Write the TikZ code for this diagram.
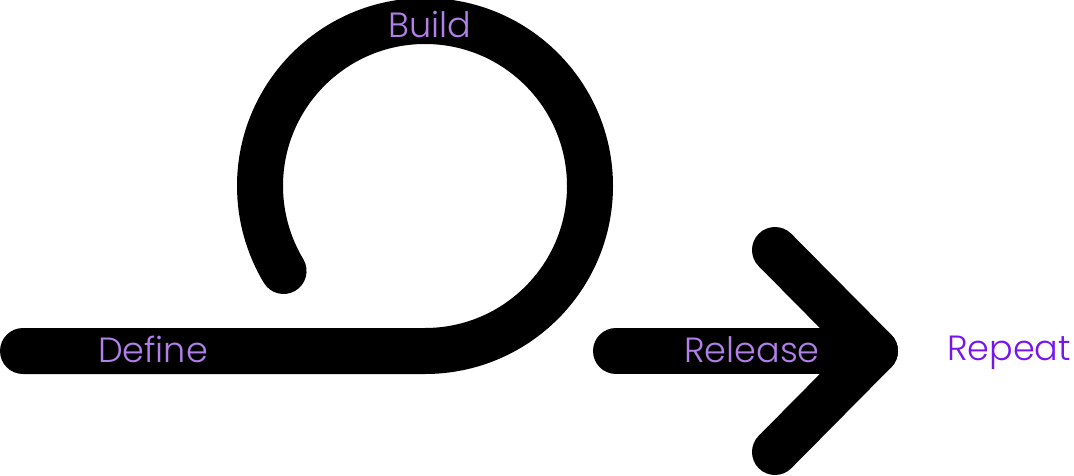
\documentclass[tikz,border=0pt]{standalone}
\usepackage{fontspec}
\setmainfont{Poppins}[UprightFont=* Light]
\usetikzlibrary{positioning}
\definecolor{softpurple}{RGB}{178,128,232}
\definecolor{deeppurple}{RGB}{118,20,238}

\begin{document}
\begin{tikzpicture}[x=1pt,y=1pt,
    stroke/.style={line width=46pt,line cap=round,line join=round},
    stage/.style={anchor=base,font=\fontsize{35}{41}\selectfont,text=softpurple,inner sep=0pt}]
    \useasboundingbox (0,0) rectangle (1074,475);

    % loop: define, then build
    \coordinate (start) at (23,124);
    \coordinate (turn) at (425,124);
    \draw[stroke] (start) -- (turn) arc (270:571:165);

    % release arrow
    \coordinate (shaft) at (616,124);
    \coordinate (tip) at (875,124);
    \coordinate (wingup) at (775,225);
    \coordinate (wingdown) at (775,23);
    \draw[stroke] (shaft) -- (tip);
    \draw[stroke] (wingup) -- (tip) -- (wingdown);

    \node[stage] (build) at (430,437) {Build};
    \node[stage] (define) at (153,113) {Define};
    \node[stage] (release) at (752,113) {Release};
    \node[stage,text=deeppurple] (repeat) at (1009,115) {Repeat};
  \end{tikzpicture}
\end{document}
